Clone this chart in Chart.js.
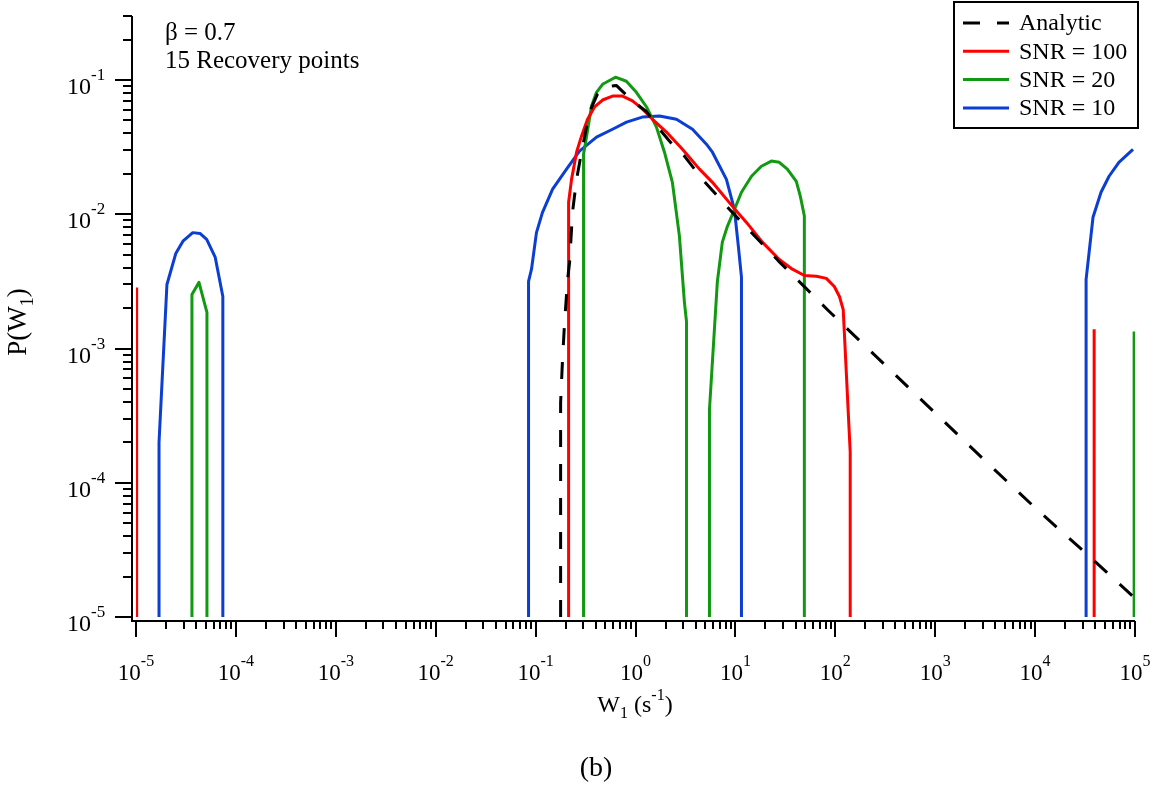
<!DOCTYPE html>
<html>
<head>
<meta charset="utf-8">
<script src="https://cdn.jsdelivr.net/npm/chart.js@4"></script>
<style>
html,body{margin:0;padding:0;background:#fff;}
canvas{display:block;}
</style>
</head>
<body>
<canvas id="c" width="1156" height="791"></canvas>
<script>
// ---------- data (null separates disconnected pieces) ----------
const analyticW = [0.178, 0.178, 0.186, 0.195, 0.209, 0.219, 0.234, 0.257, 0.288, 0.347, 0.417, 0.49, 0.646, 0.933, 1.29, 1.74, 2.57, 3.09, 4.68, 8.7, 26.9, 85, 575, 3311, 1.1e4, 3.63e4, 1e5];
const analyticP = [1e-5, 3.95e-4, 8.3e-4, 1.56e-3, 3.27e-3, 4.4e-3, 1.03e-2, 1.82e-2, 2.9e-2, 5.8e-2, 7.9e-2, 8.9e-2, 9.1e-2, 7.0e-2, 5.8e-2, 4.3e-2, 3.05e-2, 2.71e-2, 1.82e-2, 1.09e-2, 4.5e-3, 1.92e-3, 4.9e-4, 1.41e-4, 6.1e-5, 2.76e-5, 1.38e-5];

const snr100W = [1.015e-5, 1.015e-5, null,
  0.214, 0.214, 0.229, 0.257, 0.288, 0.331, 0.389, 0.468, 0.589, 0.741, 0.933, 1.17, 1.48, 2.04, 2.95, 4.37, 5.89, 9.3, 12.9, 18.6, 27.5, 37.2, 49, 64.6, 81.3, 97.7, 110, 120, 141, 141, null,
  3.9e4, 3.9e4];
const snr100P = [1e-5, 2.85e-3, null,
  1e-5, 1.23e-2, 1.82e-2, 2.9e-2, 3.82e-2, 5.1e-2, 6.3e-2, 7.1e-2, 7.6e-2, 7.6e-2, 7.0e-2, 6.1e-2, 5.1e-2, 4.1e-2, 3.05e-2, 2.17e-2, 1.73e-2, 1.15e-2, 8.7e-3, 6.2e-3, 4.6e-3, 3.9e-3, 3.5e-3, 3.45e-3, 3.33e-3, 2.9e-3, 2.44e-3, 1.95e-3, 1.7e-4, 1e-5, null,
  1e-5, 1.39e-3];

const snr20W = [3.63e-5, 3.63e-5, 4.27e-5, 5.13e-5, 5.13e-5, null,
  0.302, 0.302, 0.324, 0.363, 0.407, 0.468, 0.63, 0.81, 1.02, 1.29, 1.62, 1.95, 2.34, 2.75, 3.09, 3.24, 3.24, null,
  5.5, 5.5, 6.6, 7.4, 8.3, 9.8, 11.5, 14.5, 18.2, 22.9, 27.5, 33.1, 40.7, 44.7, 49, 49, null,
  9.8e4, 9.8e4];
const snr20P = [1e-5, 2.53e-3, 3.11e-3, 1.86e-3, 1e-5, null,
  1e-5, 2.8e-2, 3.82e-2, 6.4e-2, 8.1e-2, 9.3e-2, 0.105, 9.8e-2, 8.1e-2, 6.3e-2, 4.46e-2, 2.9e-2, 1.73e-2, 6.9e-3, 2.2e-3, 1.59e-3, 1e-5, null,
  1e-5, 3.5e-4, 3.16e-3, 6.2e-3, 8.1e-3, 1.09e-2, 1.46e-2, 1.92e-2, 2.28e-2, 2.49e-2, 2.44e-2, 2.17e-2, 1.76e-2, 1.36e-2, 9.7e-3, 1e-5, null,
  1e-5, 1.34e-3];

const snr10W = [1.7e-5, 1.7e-5, 2.04e-5, 2.5e-5, 2.95e-5, 3.7e-5, 4.37e-5, 5.1e-5, 6.2e-5, 7.4e-5, 7.4e-5, null,
  0.085, 0.085, 0.091, 0.102, 0.117, 0.148, 0.204, 0.275, 0.407, 0.589, 0.813, 1.17, 1.74, 2.57, 3.72, 5.13, 5.89, 8.13, 9.77, 10.7, 11.5, 11.5, null,
  3.24e4, 3.24e4, 3.8e4, 4.57e4, 5.5e4, 6.9e4, 9.55e4];
const snr10P = [1e-5, 2.0e-4, 3.0e-3, 5.1e-3, 6.3e-3, 7.3e-3, 7.2e-3, 6.5e-3, 4.8e-3, 2.44e-3, 1e-5, null,
  1e-5, 3.16e-3, 3.9e-3, 7.3e-3, 1.03e-2, 1.54e-2, 2.17e-2, 2.95e-2, 3.76e-2, 4.3e-2, 4.86e-2, 5.3e-2, 5.4e-2, 5.1e-2, 4.3e-2, 3.33e-2, 2.9e-2, 1.82e-2, 1.09e-2, 5.8e-3, 3.4e-3, 1e-5, null,
  1e-5, 3.27e-3, 9.5e-3, 1.46e-2, 1.92e-2, 2.44e-2, 3.05e-2];

const seriesLabels = ['Analytic', 'SNR = 100', 'SNR = 20', 'SNR = 10'];
const seriesColors = ['#000000', '#ff0000', '#119a11', '#0b3ed2'];

const xTickExponents = ['-5', '-4', '-3', '-2', '-1', '0', '1', '2', '3', '4', '5'];
const yTickExponents = ['-5', '-4', '-3', '-2', '-1'];
const xRange = [1e-5, 1e5];
const yRange = [1e-5, 0.3];

const annotationLines = ['\u03B2 = 0.7', '15 Recovery points'];
const xTitle = [['W', 0], ['1', 1], [' (s', 0], ['-1', -1], [')', 0]];
const yTitle = [['P(W', 0], ['1', 1], [')', 0]];
const caption = '(b)';

// ---------- helpers ----------
function toPoints(ws, ps) {
  const pts = [];
  let lastX = ws[0];
  for (let i = 0; i < ws.length; i++) {
    if (ws[i] === null) { pts.push({x: lastX, y: null}); continue; }
    lastX = ws[i];
    pts.push({x: ws[i], y: ps[i]});
  }
  return pts;
}

const FONT = '"Liberation Serif", "Times New Roman", serif';

function pieceFont(p, base, small) { return (p[1] === 0 ? base : small) + 'px ' + FONT; }
function richWidth(ctx, pieces, base, small) {
  let w = 0;
  for (const p of pieces) { ctx.font = pieceFont(p, base, small); w += ctx.measureText(p[0]).width; }
  return w;
}
function drawRich(ctx, pieces, x, y, base, small, align, supShift, subShift) {
  const w = richWidth(ctx, pieces, base, small);
  let cx = align === 'center' ? x - w / 2 : (align === 'right' ? x - w : x);
  ctx.textAlign = 'left';
  ctx.textBaseline = 'alphabetic';
  for (const p of pieces) {
    ctx.font = pieceFont(p, base, small);
    const dy = p[1] === -1 ? -supShift : (p[1] === 1 ? subShift : 0);
    ctx.fillText(p[0], cx, y + dy);
    cx += ctx.measureText(p[0]).width;
  }
}

const datasets = [
  [analyticW, analyticP], [snr100W, snr100P], [snr20W, snr20P], [snr10W, snr10P]
].map((d, i) => ({
  label: seriesLabels[i],
  data: toPoints(d[0], d[1]),
  showLine: true,
  spanGaps: false,
  borderColor: seriesColors[i],
  backgroundColor: seriesColors[i],
  borderWidth: 3,
  borderDash: i === 0 ? [17, 17] : [],
  borderJoinStyle: 'round',
  pointRadius: 0,
  tension: 0,
  fill: false
}));

const decorPlugin = {
  id: 'decor',
  afterDraw(chart) {
    const ctx = chart.ctx;
    const xs = chart.scales.x, ys = chart.scales.y;
    const area = chart.chartArea;
    const axX = area.left - 4;      // y-axis line position (offset like the original)
    const axY = area.bottom + 4;    // x-axis line position
    ctx.save();
    ctx.strokeStyle = '#000';
    ctx.fillStyle = '#000';
    ctx.lineWidth = 2;
    ctx.lineCap = 'butt';
    // axis lines
    ctx.beginPath();
    ctx.moveTo(axX, area.top);
    ctx.lineTo(axX, axY + 1);
    ctx.moveTo(axX - 1, axY);
    ctx.lineTo(area.right, axY);
    ctx.stroke();
    // y ticks
    ctx.beginPath();
    for (let e = -5; e <= 0; e++) {
      for (let m = 1; m <= 9; m++) {
        const v = m * Math.pow(10, e);
        if (v < yRange[0] * 0.999 || v > yRange[1] * 1.001) continue;
        const py = Math.round(ys.getPixelForValue(v));
        const len = m === 1 ? 17 : 9;
        ctx.moveTo(axX, py);
        ctx.lineTo(axX - len, py);
      }
    }
    // x ticks
    for (let e = -5; e <= 5; e++) {
      for (let m = 1; m <= 9; m++) {
        const v = m * Math.pow(10, e);
        if (v > xRange[1] * 1.001) continue;
        const px = Math.round(xs.getPixelForValue(v));
        const len = m === 1 ? 16 : 8;
        ctx.moveTo(px, axY);
        ctx.lineTo(px, axY + len);
      }
    }
    ctx.stroke();

    // tick labels
    xTickExponents.forEach(ex => {
      const px = xs.getPixelForValue(Math.pow(10, +ex));
      drawRich(ctx, [['10', 0], [ex, -1]], px, 680, 23, 16, 'center', 14, 0);
    });
    yTickExponents.forEach(ex => {
      const py = ys.getPixelForValue(Math.pow(10, +ex));
      drawRich(ctx, [['10', 0], [ex, -1]], 67, py + 14, 24, 17, 'left', 14, 0);
    });

    // axis titles
    drawRich(ctx, xTitle, 635, 712, 24, 16, 'center', 12, 6);
    ctx.save();
    ctx.translate(26, 322);
    ctx.rotate(-Math.PI / 2);
    drawRich(ctx, yTitle, 0, 0, 27, 18, 'center', 12, 7);
    ctx.restore();

    // annotation
    ctx.font = '25px ' + FONT;
    ctx.textAlign = 'left';
    ctx.textBaseline = 'alphabetic';
    ctx.fillText(annotationLines[0], 165, 40);
    ctx.fillText(annotationLines[1], 165, 68);

    // caption
    ctx.font = '28px ' + FONT;
    ctx.textAlign = 'center';
    ctx.fillText(caption, 596, 776);

    // legend
    ctx.lineWidth = 2;
    ctx.strokeStyle = '#000';
    ctx.strokeRect(954, 2, 184, 126);
    chart.data.datasets.forEach((ds, i) => {
      const cy = 23 + i * 28.3;
      ctx.beginPath();
      ctx.lineWidth = 3;
      ctx.strokeStyle = ds.borderColor;
      ctx.setLineDash(ds.borderDash || []);
      ctx.moveTo(963, cy);
      ctx.lineTo(1009, cy);
      ctx.stroke();
      ctx.setLineDash([]);
      ctx.font = '24px ' + FONT;
      ctx.fillStyle = '#000';
      ctx.textAlign = 'left';
      ctx.textBaseline = 'middle';
      ctx.fillText(ds.label, 1019, cy + 1);
    });
    ctx.restore();
  }
};

new Chart(document.getElementById('c'), {
  type: 'scatter',
  data: { datasets },
  options: {
    responsive: false,
    animation: false,
    layout: { padding: { left: 136, right: 21, top: 16, bottom: 174 } },
    scales: {
      x: { type: 'logarithmic', min: xRange[0], max: xRange[1], display: false },
      y: { type: 'logarithmic', min: yRange[0], max: yRange[1], display: false }
    },
    plugins: { legend: { display: false }, tooltip: { enabled: false } },
    events: []
  },
  plugins: [decorPlugin]
});
</script>
</body>
</html>
